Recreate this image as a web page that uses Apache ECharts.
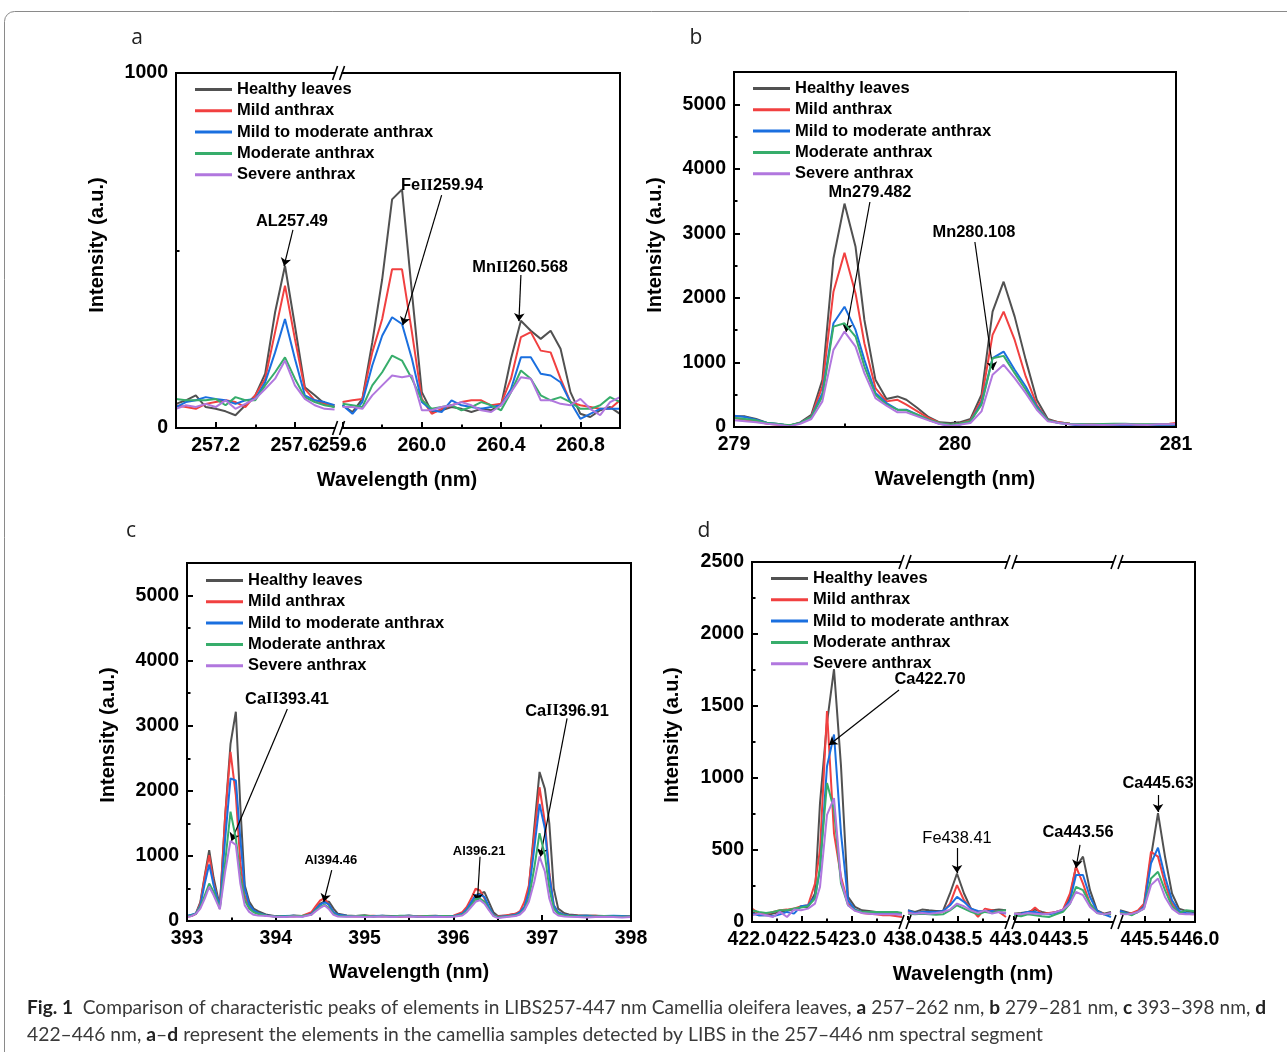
<!DOCTYPE html>
<html><head><meta charset="utf-8">
<script src="https://cdn.jsdelivr.net/npm/echarts@6/dist/echarts.min.js"></script>
<style>html,body{margin:0;padding:0;background:#fff;}#c{width:1287px;height:1052px;}</style>
</head><body><div id="c"></div>
<script>
// ---------------- DATA ----------------
const NAMES = ['Healthy leaves','Mild anthrax','Mild to moderate anthrax','Moderate anthrax','Severe anthrax'];
const COLORS = ['#515151','#F14040','#1A6FDF','#37AD6B','#B177DE'];

// Panel a, segment 1 (257.0-257.8 nm)
const a1_wl       = [257.00,257.05,257.10,257.15,257.20,257.25,257.30,257.35,257.40,257.45,257.50,257.55,257.60,257.65,257.70,257.75,257.80];
const a1_healthy  = [68,78,92,59,54,47,36,64,92,153,326,457,288,115,92,68,59];
const a1_mild     = [64,59,54,68,73,78,73,59,92,139,270,401,251,110,78,68,64];
const a1_mildmod  = [59,73,78,87,82,78,68,78,82,129,213,307,195,92,78,73,64];
const a1_moderate = [82,78,78,78,82,64,87,78,78,120,157,199,139,87,73,64,59];
const a1_severe   = [54,64,59,68,59,78,54,68,82,110,139,190,120,82,64,54,52];
// Panel a, segment 2 (259.6-261.0 nm)
const a2_wl       = [259.60,259.65,259.70,259.75,259.80,259.85,259.90,259.95,260.00,260.05,260.10,260.15,260.20,260.25,260.30,260.35,260.40,260.45,260.50,260.55,260.60,260.65,260.70,260.75,260.80,260.85,260.90,260.95,261.00];
const a2_healthy  = [64,45,82,241,419,644,672,382,101,45,50,59,54,45,54,50,64,195,302,274,251,274,223,101,40,31,50,59,40];
const a2_mild     = [73,78,82,213,307,447,447,270,82,40,54,64,73,78,78,64,68,139,256,270,218,213,139,73,64,59,54,54,78];
const a2_mildmod  = [64,40,73,176,260,312,293,195,73,50,45,78,64,59,54,59,64,110,199,199,153,148,129,73,26,40,54,54,54];
const a2_moderate = [68,64,59,120,157,204,190,139,78,54,59,64,50,59,73,64,50,101,162,139,92,78,87,73,54,54,64,87,73];
const a2_severe   = [59,59,54,92,120,148,143,148,50,50,59,64,73,64,50,45,64,101,143,139,78,78,68,64,82,54,36,73,87];

// Panel b (279-281 nm)
const b_wl       = [279.00,279.05,279.10,279.15,279.20,279.25,279.30,279.35,279.40,279.45,279.50,279.55,279.59,279.64,279.69,279.74,279.78,279.83,279.88,279.93,279.98,280.02,280.07,280.12,280.17,280.22,280.27,280.32,280.37,280.42,280.47,280.52,280.57,280.62,280.67,280.72,280.77,280.82,280.87,280.92,280.97,281.00];
const b_healthy  = [165,165,124,62,46,21,72,190,731,2611,3461,2791,1658,731,433,474,422,294,155,72,62,72,124,500,1787,2251,1710,1040,422,124,72,51,46,41,36,36,41,36,36,41,36,51];
const b_mild     = [139,113,88,51,36,21,62,165,628,2096,2699,2070,1298,603,397,422,345,242,139,62,21,51,103,422,1427,1787,1349,783,345,103,72,51,46,41,36,31,36,36,31,36,51,62];
const b_mildmod  = [175,155,113,62,46,21,62,155,525,1607,1864,1504,1040,525,371,268,268,190,113,51,21,36,88,371,1066,1169,886,628,319,103,62,41,21,10,21,26,21,10,26,26,31,31];
const b_moderate = [139,124,103,62,46,26,62,155,474,1555,1607,1401,937,500,345,268,258,190,113,62,36,51,88,345,1066,1102,834,577,294,103,62,51,46,41,46,51,51,41,41,41,41,41];
const b_severe   = [103,88,72,51,36,10,51,124,397,1195,1478,1246,834,448,330,227,227,165,103,46,21,36,62,242,809,963,757,525,268,88,62,41,36,36,31,36,41,36,31,41,41,46];

// Panel c (393-398 nm)
const c_wl       = [393.00,393.05,393.10,393.15,393.20,393.25,393.30,393.37,393.43,393.49,393.55,393.60,393.65,393.70,393.75,393.80,393.90,394.00,394.10,394.20,394.30,394.40,394.45,394.50,394.55,394.60,394.65,394.70,394.80,394.90,395.00,395.10,395.20,395.30,395.40,395.50,395.60,395.70,395.80,395.90,396.00,396.10,396.15,396.20,396.25,396.30,396.35,396.40,396.45,396.50,396.60,396.70,396.75,396.80,396.85,396.91,396.97,397.03,397.08,397.13,397.18,397.25,397.30,397.40,397.50,397.60,397.70,397.80,397.90,398.00];
const c_healthy  = [75,85,115,290,700,1090,660,225,1620,2720,3215,1780,550,300,190,150,95,75,65,85,75,110,190,265,300,295,190,110,85,75,90,70,80,75,70,85,70,75,80,70,75,110,165,265,395,420,445,290,135,75,85,110,135,190,500,1420,2290,2030,1500,500,190,120,100,90,85,80,75,70,75,70];
const c_mild     = [65,75,110,265,680,1010,580,195,1620,2600,1930,900,395,215,150,110,80,70,75,70,80,135,230,315,350,240,135,85,75,70,75,80,70,75,65,70,75,70,70,75,80,135,215,345,495,470,345,190,95,70,90,110,150,295,550,1310,2055,1520,750,240,135,95,85,80,75,80,70,75,70,75];
const c_mildmod  = [80,95,115,240,575,870,550,215,1270,2190,2160,1270,500,250,165,125,85,70,75,80,70,110,180,250,290,250,135,95,80,75,70,75,80,70,75,80,70,65,75,70,75,110,180,290,395,405,370,215,95,60,75,95,135,215,450,1110,1800,1420,700,240,135,95,85,75,80,70,75,80,75,70];
const c_moderate = [75,85,110,215,395,575,450,190,910,1680,1270,700,320,190,135,110,80,70,70,75,80,95,165,215,250,200,110,75,70,75,80,70,75,70,80,75,70,75,70,75,70,95,150,240,335,345,295,180,85,55,70,85,110,180,345,810,1350,1015,500,190,110,85,75,70,65,70,75,70,65,70];
const c_severe   = [60,75,110,190,345,525,395,180,760,1230,1170,580,240,140,95,85,75,65,60,70,65,95,150,200,240,180,95,70,65,70,60,65,70,60,65,70,65,60,65,60,65,85,135,215,295,320,265,165,75,45,60,75,100,165,295,600,990,760,345,135,85,70,65,60,55,60,65,60,55,60];

// Panel d, segments (422.0-423.5, 438.0-439.0, 443.0-444.0, 445.25-446.0 nm)
const d1_wl       = [422.00,422.07,422.14,422.21,422.28,422.35,422.42,422.49,422.56,422.63,422.68,422.75,422.82,422.89,422.96,423.03,423.10,423.17,423.24,423.31,423.38,423.45,423.50];
const d1_healthy  = [70,47,47,58,70,81,86,105,105,198,826,1384,1756,1082,174,105,81,77,70,70,70,63,58];
const d1_mild     = [93,58,53,70,81,86,93,109,116,267,500,1465,616,314,128,86,63,58,53,47,47,40,35];
const d1_mildmod  = [58,47,47,40,53,70,58,109,116,174,360,1082,1302,616,151,86,70,63,58,58,58,53,53];
const d1_moderate = [81,70,63,70,81,81,93,100,109,163,384,965,779,267,116,81,70,70,70,70,70,70,63];
const d1_severe   = [47,58,47,35,70,35,86,81,93,128,244,744,860,291,116,77,63,58,53,53,53,53,51];
const d2_wl       = [438.00,438.07,438.14,438.21,438.28,438.35,438.42,438.49,438.56,438.63,438.70,438.77,438.84,438.91,438.98];
const d2_healthy  = [81,70,86,81,77,77,198,337,198,93,70,77,81,86,81];
const d2_mild     = [70,58,70,70,63,70,128,256,151,93,35,93,81,70,35];
const d2_mildmod  = [81,63,70,70,70,77,116,174,140,93,77,70,77,70,58];
const d2_moderate = [58,53,58,53,51,53,81,116,93,70,53,70,63,77,81];
const d2_severe   = [63,58,63,58,63,70,86,128,109,81,63,81,58,70,63];
const d3_wl       = [443.00,443.07,443.14,443.21,443.28,443.35,443.42,443.49,443.56,443.62,443.69,443.76,443.83,443.90,443.97];
const d3_healthy  = [58,63,70,86,70,58,70,81,174,384,454,221,81,58,70];
const d3_mild     = [47,47,58,100,58,63,70,86,198,384,267,128,70,58,53];
const d3_mildmod  = [53,58,70,70,58,53,63,81,151,326,326,174,77,53,35];
const d3_moderate = [47,40,53,47,40,35,53,70,128,244,221,128,63,53,58];
const d3_severe   = [58,53,63,58,53,58,70,86,128,209,186,105,63,53,63];
const d4_wl       = [445.25,445.31,445.37,445.43,445.49,445.56,445.63,445.70,445.77,445.84,445.91,445.98,446.00];
const d4_healthy  = [81,70,58,70,116,454,756,454,198,93,77,70,63];
const d4_mild     = [70,58,63,81,128,488,454,267,128,70,58,53,58];
const d4_mildmod  = [77,63,53,70,105,407,516,314,151,77,63,58,58];
const d4_moderate = [63,58,47,70,93,302,349,221,109,63,81,77,70];
const d4_severe   = [58,53,58,70,93,256,302,174,93,58,53,53,53];

// Tick label arrays
const a1_ticks = [257.2,257.6], a1_minor = [257.4];
const a2_ticks = [259.6,260.0,260.4,260.8], a2_minor = [259.8,260.2,260.6];
const a_yticks = [0,1000], a_yminor = [500];
const b_ticks = [279,280,281], b_minor = [279.5,280.5];
const bc_yticks = [0,1000,2000,3000,4000,5000], bc_yminor = [500,1500,2500,3500,4500];
const c_ticks = [393,394,395,396,397,398], c_minor = [393.5,394.5,395.5,396.5,397.5];
const d1_ticks = [422.0,422.5,423.0], d1_minor = [422.25,422.75,423.25];
const d2_ticks = [438.0,438.5], d2_minor = [438.25,438.75];
const d3_ticks = [443.0,443.5], d3_minor = [443.25,443.75];
const d4_ticks = [445.5,446.0], d4_minor = [445.75];
const d_yticks = [0,500,1000,1500,2000,2500], d_yminor = [250,750,1250,1750,2250];

// Annotations (data coordinates): label text / anchor, arrow tail -> head
const a_labels = [{seg:0,text:'AL257.49',at:[257.585,583]},{seg:1,text:'Fe{r|II}259.94',at:[260.102,682]},{seg:1,text:'Mn{r|II}260.568',at:[260.496,451]}];
const a_arrows = [{seg:0,from:[257.59,558],to:[257.545,456]},{seg:1,from:[260.10,656],to:[259.904,290]},{seg:1,from:[260.50,431],to:[260.49,301]}];
const b_labels = [{seg:0,text:'Mn279.482',at:[279.615,3641]},{seg:0,text:'Mn280.108',at:[280.086,3021]}];
const b_arrows = [{seg:0,from:[279.615,3486],to:[279.507,1472]},{seg:0,from:[280.09,2866],to:[280.172,883]}];
const c_labels = [{seg:0,text:'Ca{r|II}393.41',at:[394.126,3410]},{seg:0,text:'Ca{r|II}396.91',at:[397.28,3226]},{seg:0,text:'Al394.46',at:[394.62,937],small:true},{seg:0,text:'Al396.21',at:[396.29,1075],small:true}];
const c_arrows = [{seg:0,from:[394.13,3256],to:[393.50,1229]},{seg:0,from:[397.28,3114],to:[396.98,988]},{seg:0,from:[394.63,783],to:[394.54,296]},{seg:0,from:[396.30,988],to:[396.27,296]}];
const d_labels = [{seg:1,text:'Ca422.70',at:[438.22,1681]},{seg:1,text:'Fe438.41',at:[438.49,583],normal:true},{seg:2,text:'Ca443.56',at:[443.64,625]},{seg:3,text:'Ca445.63',at:[445.63,965]}];
const d_arrows = [{seg:0,from:[423.47,1611],to:[422.77,1229]},{seg:1,from:[438.49,514],to:[438.49,340]},{seg:2,from:[443.66,535],to:[443.62,375]},{seg:3,from:[445.63,882],to:[445.63,764]}];

// Caption text pieces [text, bold]
const caption1 = [['Fig. 1',1],['  Comparison of characteristic peaks of elements in LIBS257-447 nm Camellia oleifera leaves, ',0],['a',1],[' 257–262 nm, ',0],['b',1],[' 279–281 nm, ',0],['c',1],[' 393–398 nm, ',0],['d',1]];
const caption2 = [['422–446 nm, ',0],['a',1],['–',0],['d',1],[' represent the elements in the camellia samples detected by LIBS in the 257–446 nm spectral segment',0]];

// ---------------- LAYOUT / STYLE ----------------
const FONT = 'Arial, "Liberation Sans", sans-serif';
const panels = [
  { letter:'a', box:{l:176,t:73,r:620,b:428}, gap:8, ymax:1000, yticks:a_yticks, yminor:a_yminor,
    segs:[{min:257.0,max:257.8,wl:a1_wl,ys:[a1_healthy,a1_mild,a1_mildmod,a1_moderate,a1_severe],ticks:a1_ticks,minor:a1_minor,dec:1},
          {min:259.6,max:261.0,wl:a2_wl,ys:[a2_healthy,a2_mild,a2_mildmod,a2_moderate,a2_severe],ticks:a2_ticks,minor:a2_minor,dec:1}],
    labels:a_labels, arrows:a_arrows, legend:[195,80.5], letterPos:[137,38], xTitle:[397,480], yTitle:[97,245] },
  { letter:'b', box:{l:734,t:72,r:1176,b:427}, gap:0, ymax:5500, yticks:bc_yticks, yminor:bc_yminor,
    segs:[{min:279,max:281,wl:b_wl,ys:[b_healthy,b_mild,b_mildmod,b_moderate,b_severe],ticks:b_ticks,minor:b_minor,dec:0}],
    labels:b_labels, arrows:b_arrows, legend:[753,79.5], letterPos:[696,38], xTitle:[955,479], yTitle:[655,245] },
  { letter:'c', box:{l:187,t:563,r:631,b:921}, gap:0, ymax:5500, yticks:bc_yticks, yminor:bc_yminor,
    segs:[{min:393,max:398,wl:c_wl,ys:[c_healthy,c_mild,c_mildmod,c_moderate,c_severe],ticks:c_ticks,minor:c_minor,dec:0}],
    labels:c_labels, arrows:c_arrows, legend:[206,571.5], letterPos:[131,531], xTitle:[409,972], yTitle:[108,735] },
  { letter:'d', box:{l:752,t:562,r:1195,b:922}, gap:6, ymax:2500, yticks:d_yticks, yminor:d_yminor,
    segs:[{min:422.0,max:423.5,wl:d1_wl,ys:[d1_healthy,d1_mild,d1_mildmod,d1_moderate,d1_severe],ticks:d1_ticks,minor:d1_minor,dec:1},
          {min:438.0,max:439.0,wl:d2_wl,ys:[d2_healthy,d2_mild,d2_mildmod,d2_moderate,d2_severe],ticks:d2_ticks,minor:d2_minor,dec:1},
          {min:443.0,max:444.0,wl:d3_wl,ys:[d3_healthy,d3_mild,d3_mildmod,d3_moderate,d3_severe],ticks:d3_ticks,minor:d3_minor,dec:1},
          {min:445.25,max:446.0,wl:d4_wl,ys:[d4_healthy,d4_mild,d4_mildmod,d4_moderate,d4_severe],ticks:d4_ticks,minor:d4_minor,dec:1}],
    labels:d_labels, arrows:d_arrows, legend:[771,569.5], letterPos:[704,531], xTitle:[973,974], yTitle:[672,735] }
];

const grids=[], xAxes=[], yAxes=[], series=[], graphics=[], legends=[];
const tickStyle = {color:'#000', width:2};
const labelStyle = {fontSize:19.5, fontWeight:'bold', fontFamily:FONT, color:'#000'};

panels.forEach(p => {
  const total = p.segs.reduce((s,g)=>s+(g.max-g.min),0);
  const H = p.box.b - p.box.t;
  const W = p.box.r - p.box.l - p.gap*(p.segs.length-1);
  let x = p.box.l;
  const segPix = [];
  const segAxes = [];
  p.segs.forEach((s, si) => {
    const w = W*(s.max-s.min)/total;
    const gi = grids.length;
    grids.push({left:x, top:p.box.t, width:w, height:H, containLabel:false});
    const xi = xAxes.length;
    xAxes.push({gridIndex:gi, type:'value', position:'bottom', min:s.min, max:s.max,
      axisLine:{show:false}, splitLine:{show:false},
      axisTick:{show:true, inside:true, length:6, customValues:s.ticks, lineStyle:tickStyle},
      axisLabel:Object.assign({show:true, margin:8, customValues:s.ticks, formatter:v=>Number(v).toFixed(s.dec)}, labelStyle)});
    xAxes.push({gridIndex:gi, type:'value', position:'bottom', min:s.min, max:s.max,
      axisLine:{show:false}, splitLine:{show:false},
      axisTick:{show:true, inside:true, length:3.5, customValues:s.minor, lineStyle:tickStyle},
      axisLabel:{show:false}});
    const yi = yAxes.length;
    if (si === 0) {
      yAxes.push({gridIndex:gi, type:'value', min:0, max:p.ymax, position:'left',
        axisLine:{show:false}, splitLine:{show:false},
        axisTick:{show:true, inside:true, length:6, customValues:p.yticks, lineStyle:tickStyle},
        axisLabel:Object.assign({show:true, margin:8, customValues:p.yticks, formatter:v=>String(Math.round(v))}, labelStyle)});
      yAxes.push({gridIndex:gi, type:'value', min:0, max:p.ymax, position:'left',
        axisLine:{show:false}, splitLine:{show:false},
        axisTick:{show:true, inside:true, length:3.5, customValues:p.yminor, lineStyle:tickStyle},
        axisLabel:{show:false}});
    } else {
      yAxes.push({gridIndex:gi, type:'value', min:0, max:p.ymax, show:false});
    }
    s.ys.forEach((ys, k) => {
      series.push({type:'line', name:NAMES[k], xAxisIndex:xi, yAxisIndex:yi,
        data:s.wl.map((w,i)=>[w, ys[i]]), showSymbol:false, symbol:'none', silent:true,
        lineStyle:{width:2, color:COLORS[k]}, itemStyle:{color:COLORS[k]}, z:2+k});
    });
    segAxes.push({xi, yi});
    segPix.push([x, x+w]);
    x += w + p.gap;
  });
  // annotations
  p.segs.forEach((s, si) => {
    const labs = p.labels.filter(n=>n.seg===si);
    const arrs = p.arrows.filter(n=>n.seg===si);
    if (!labs.length && !arrs.length) return;
    series.push({type:'line', name:'note-'+p.letter+si, xAxisIndex:segAxes[si].xi, yAxisIndex:segAxes[si].yi,
      data:[], silent:true, z:20,
      markPoint:{silent:true, symbol:'rect', symbolSize:1, itemStyle:{color:'rgba(0,0,0,0)'},
        data:labs.map(n=>({coord:n.at, value:0,
          label:{show:true, position:'inside', formatter:n.text, color:'#000',
            fontSize:n.small?13:16.4, fontWeight:n.normal?'normal':'bold', fontFamily:FONT,
            rich:{r:{fontFamily:'"Liberation Serif", serif', fontWeight:'bold', fontSize:n.small?13:16.4, color:'#000'}}}}))},
      markLine:{silent:true, symbol:['none','arrow'], symbolSize:8, label:{show:false},
        lineStyle:{color:'#000', width:1.2, type:'solid'},
        emphasis:{disabled:true},
        data:arrs.map(n=>[{coord:n.from},{coord:n.to}])}});
  });
  // frame
  graphics.push({type:'rect', z:30, silent:true, shape:{x:p.box.l, y:p.box.t, width:p.box.r-p.box.l, height:p.box.b-p.box.t},
    style:{fill:'none', stroke:'#000', lineWidth:2}});
  // breaks
  for (let i=0;i<segPix.length-1;i++){
    const bx = (segPix[i][1]+segPix[i+1][0])/2;
    [p.box.t, p.box.b].forEach(yy => {
      graphics.push({type:'rect', z:31, silent:true, shape:{x:bx-3, y:yy-2, width:6, height:4}, style:{fill:'#fff', stroke:null}});
      graphics.push({type:'line', z:32, silent:true, shape:{x1:bx-6, y1:yy+7, x2:bx-1, y2:yy-7}, style:{stroke:'#000', lineWidth:1.6}});
      graphics.push({type:'line', z:32, silent:true, shape:{x1:bx+1, y1:yy+7, x2:bx+6, y2:yy-7}, style:{stroke:'#000', lineWidth:1.6}});
    });
  }
  // titles and letters
  graphics.push({type:'text', z:30, silent:true, x:p.xTitle[0], y:p.xTitle[1],
    style:{text:'Wavelength (nm)', fontSize:20, fontWeight:'bold', fontFamily:FONT, fill:'#000', align:'center', verticalAlign:'middle'}});
  graphics.push({type:'text', z:30, silent:true, x:p.yTitle[0], y:p.yTitle[1], rotation:Math.PI/2,
    style:{text:'Intensity (a.u.)', fontSize:20, fontWeight:'bold', fontFamily:FONT, fill:'#000', align:'center', verticalAlign:'middle'}});
  graphics.push({type:'text', z:30, silent:true, x:p.letterPos[0], y:p.letterPos[1],
    style:{text:p.letter, fontSize:21, fontWeight:'normal', fontFamily:'"Open Sans", "Noto Sans", sans-serif', fill:'#222', align:'center', verticalAlign:'middle'}});
  legends.push({left:p.legend[0], top:p.legend[1], orient:'vertical', icon:'rect', itemWidth:37, itemHeight:3, itemGap:3.3,
    padding:0, selectedMode:false, data:NAMES,
    textStyle:{fontSize:16.5, fontWeight:'bold', fontFamily:FONT, color:'#000', lineHeight:18}});
});

// outer frame and caption (caption condensed horizontally to its printed width)
graphics.push({type:'rect', z:1, silent:true, shape:{x:4.5, y:11.5, width:1400, height:1200, r:10}, style:{fill:'none', stroke:'#8a8a8a', lineWidth:1}});
const capFam = 'Lato, "Noto Sans", sans-serif';
const capSize = 19;
const mctx = document.createElement('canvas').getContext('2d');
function capWidth(parts){ let w=0; parts.forEach(([t,b])=>{ mctx.font=(b?'bold ':'normal ')+capSize+'px '+capFam; w+=mctx.measureText(t).width; }); return w; }
function capText(parts){ return parts.map(([t,b])=> b ? '{b|'+t+'}' : t).join(''); }
[[caption1, 1008, 1239],[caption2, 1035, 1016]].forEach(([parts, yy, target]) => {
  const sx = target / capWidth(parts);
  graphics.push({type:'text', z:30, silent:true, x:27, y:yy, scaleX:sx, scaleY:1,
    style:{text:capText(parts), fontSize:capSize, fontFamily:capFam, fill:'#3a3a3a', align:'left', verticalAlign:'middle',
      rich:{b:{fontWeight:'bold', fontSize:capSize, fontFamily:capFam, fill:'#222'}}}});
});

const chart = echarts.init(document.getElementById('c'), null, {renderer:'canvas'});
chart.setOption({
  animation:false, backgroundColor:'#fff',
  grid:grids, xAxis:xAxes, yAxis:yAxes, series:series, legend:legends, graphic:graphics
});
</script></body></html>
